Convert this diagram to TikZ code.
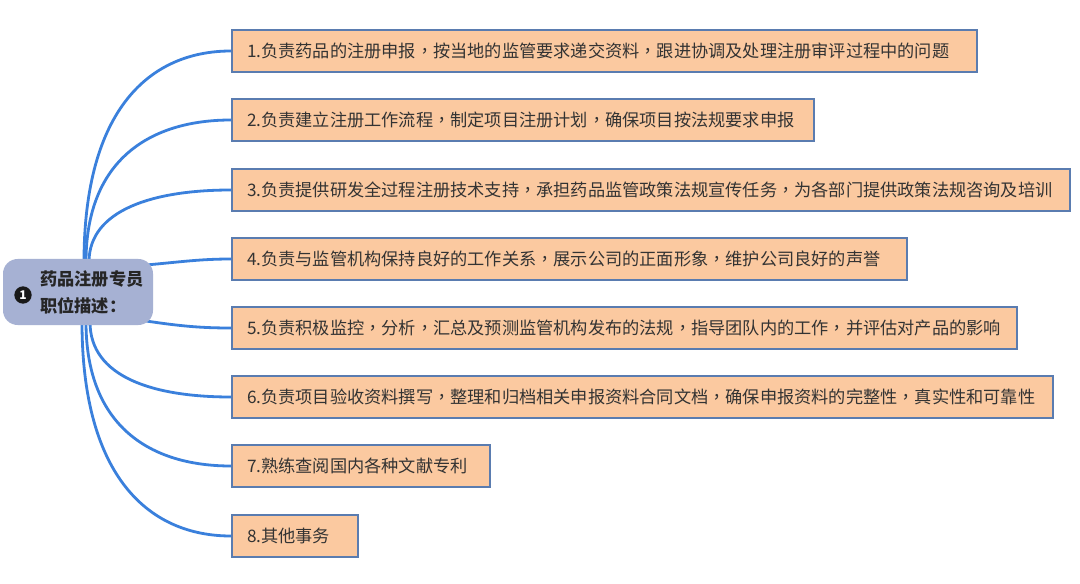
\documentclass[tikz,border=0pt]{standalone}
\usepackage{fontspec}
\setmainfont{Noto Sans CJK SC}
\newfontfamily\tcfont{Noto Sans CJK TC}
\newcommand\cm{{\tcfont ，}}
\definecolor{boxfill}{HTML}{FBC9A0}
\definecolor{boxline}{HTML}{5A7CB0}
\definecolor{conncol}{HTML}{3A80DC}
\definecolor{rootfill}{HTML}{A6B1D3}
\definecolor{txtcol}{HTML}{333333}
\newcommand\bt[2]{\makebox[#1\dimexpr 0.75pt\relax][l]{#2}}
\tikzset{
  box/.style={draw=boxline, line width=1.5pt, fill=boxfill, anchor=west,
    minimum height=31.5pt, inner xsep=11.25pt, inner ysep=0pt,
    text=txtcol, font=\fontsize{12.9pt}{15pt}\selectfont},
  rootbox/.style={fill=rootfill, rounded corners=11pt, minimum width=112.5pt,
    minimum height=49.5pt, inner sep=0pt},
  roottext/.style={anchor=west, align=left, inner sep=0pt, text=black!85,
    font=\fontsize{12.9pt}{20.25pt}\selectfont\bfseries},
  bullet/.style={circle, fill=black!90, minimum size=13pt, inner sep=0pt,
    text=white, font=\fontsize{9pt}{9pt}\selectfont\bfseries},
  conn/.style={draw=conncol, line width=2.1pt}
}
\begin{document}
\begin{tikzpicture}[x=0.75pt,y=-0.75pt]
\useasboundingbox[fill=white] (0,0) rectangle (1080,584);
% boxes
\node[box] (b1) at (231,51)  {\bt{715}{1.负责药品的注册申报\cm 按当地的监管要求递交资料\cm 跟进协调及处理注册审评过程中的问题}};
\node[box] (b2) at (231,120) {\bt{552}{2.负责建立注册工作流程\cm 制定项目注册计划\cm 确保项目按法规要求申报}};
\node[box] (b3) at (231,190) {\bt{808}{3.负责提供研发全过程注册技术支持\cm 承担药品监管政策法规宣传任务\cm 为各部门提供政策法规咨询及培训}};
\node[box] (b4) at (231,259) {\bt{645}{4.负责与监管机构保持良好的工作关系\cm 展示公司的正面形象\cm 维护公司良好的声誉}};
\node[box] (b5) at (231,328) {\bt{755}{5.负责积极监控\cm 分析\cm 汇总及预测监管机构发布的法规\cm 指导团队内的工作\cm 并评估对产品的影响}};
\node[box] (b6) at (231,397) {\bt{791}{6.负责项目验收资料撰写\cm 整理和归档相关申报资料合同文档\cm 确保申报资料的完整性\cm 真实性和可靠性}};
\node[box] (b7) at (231,466) {\bt{228}{7.熟练查阅国内各种文献专利}};
\node[box] (b8) at (231,536) {\bt{96}{8.其他事务}};
% connector start points on the root
\coordinate (s1) at (84,262);
\coordinate (s2) at (86,262);
\coordinate (s3) at (89,262);
\coordinate (s4) at (146,265);
\coordinate (s5) at (146,321);
\coordinate (s6) at (90,322);
\coordinate (s7) at (86,322);
\coordinate (s8) at (82,322);
% connectors
\draw[conn] (s1) .. controls (84,109) and (150,51) .. (b1.west);
\draw[conn] (s2) .. controls (86,159) and (151,120) .. (b2.west);
\draw[conn] (s3) .. controls (89,210) and (153,190) .. (b3.west);
\draw[conn] (s4) .. controls (180,262) and (200,259) .. (b4.west);
\draw[conn] (s5) .. controls (180,326) and (200,328) .. (b5.west);
\draw[conn] (s6) .. controls (90,377) and (153,397) .. (b6.west);
\draw[conn] (s7) .. controls (86,427) and (151,466) .. (b7.west);
\draw[conn] (s8) .. controls (82,477) and (149,536) .. (b8.west);
% root
\node[rootbox] (root) at (78,292) {};
\node[bullet] (bul) at (23,295) {1};
\node[roottext] (rt) at (40,292) {药品注册专员\\职位描述：};
\end{tikzpicture}
\end{document}
